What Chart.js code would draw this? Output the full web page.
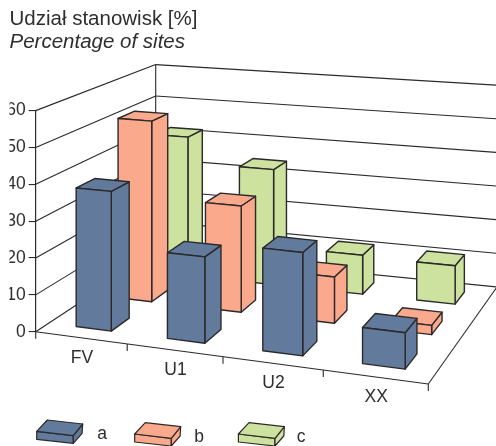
<!DOCTYPE html>
<html>
<head>
<meta charset="utf-8">
<style>html,body{margin:0;padding:0;background:#fff}canvas{display:block}</style>
<script src="https://cdn.jsdelivr.net/npm/chart.js@4"></script>
</head>
<body>
<canvas id="chart" width="496" height="446"></canvas>
<script>
// Share of sites per conservation class, split by series
const categories = ['FV', 'U1', 'U2', 'XX'];
const seriesNames = ['a', 'b', 'c'];
const seriesA = [38, 23, 27, 9.3];
const seriesB = [52, 30, 12.8, 2.5];
const seriesC = [42, 34.3, 11.4, 11];
const yTicks = [0, 10, 20, 30, 40, 50, 60];
const titleText = 'Udział stanowisk [%]';
const subtitleText = 'Percentage of sites';

const INK = '#2b292a';
const TEXT = '#2f2d2e';
const FILLS = ['#627a9b', '#fba98c', '#cde29f'];
const FONT = '"Liberation Sans", Arial, sans-serif';

// Floor plane of the 3D box: corners in canvas space come from the chart area
// plus the receding edges, (s, w) run along categories and along depth.
function floorProjector(area) {
  const ax = area.left, ay = area.bottom;
  const bx = area.right, by = area.bottom + 52.3;
  const dx = area.left + 120, dy = area.bottom - 79;
  const g = -0.1236, h = 0.1752, gv = -0.08;
  const a = bx * (1 + g) - ax, b = dx * (1 + h) - ax;
  const d = by * (1 + g) - ay, e = dy * (1 + h) - ay;
  return {
    floor(s, w) {
      const q = 1 + g * s + h * w;
      return { x: (a * s + b * w + ax) / q, y: (d * s + e * w + ay) / q };
    },
    // Pixels of rise at a floor point, foreshortened with distance
    rise(px, s, w) { return px / (1 + gv * s + h * w); }
  };
}

// Slight correction of spacing along the front edge
const warp = s => s + 0.04 * s * (1 - s);

function poly(ctx, pts, fill) {
  ctx.beginPath();
  pts.forEach((p, i) => i ? ctx.lineTo(p.x, p.y) : ctx.moveTo(p.x, p.y));
  ctx.closePath();
  if (fill) { ctx.fillStyle = fill; ctx.fill(); }
  ctx.stroke();
}

function seg(ctx, p, q) {
  ctx.beginPath();
  ctx.moveTo(p.x, p.y);
  ctx.lineTo(q.x, q.y);
  ctx.stroke();
}

const box3d = {
  id: 'box3d',
  beforeDatasetsDraw(chart) {
    const { ctx, chartArea: area, scales: { x: xs, y: ys } } = chart;
    const P = floorProjector(area);
    const base = ys.getPixelForValue(0);
    const at = (s, w, v) => {
      const f = P.floor(s, w);
      return { x: f.x, y: f.y - P.rise(base - ys.getPixelForValue(v), s, w) };
    };

    ctx.save();
    ctx.lineJoin = 'round';

    // Walls, gridlines and floor outline
    ctx.strokeStyle = INK;
    ctx.lineWidth = 1.1;
    yTicks.forEach(v => {
      seg(ctx, at(0, 0, v), at(0, 1, v));
      seg(ctx, at(0, 1, v), at(1, 1, v));
    });
    seg(ctx, at(0, 1, 0), at(0, 1, yTicks[yTicks.length - 1]));
    seg(ctx, at(0, 0, 0), at(1, 0, 0));
    seg(ctx, at(1, 0, 0), at(1, 1, 0));

    // Category separators below the front edge
    for (let i = 0; i <= categories.length; i++) {
      const p = P.floor(warp(i / categories.length), 0);
      seg(ctx, p, { x: p.x, y: p.y + 7 });
    }

    // Bars, rear series first
    const halfW = 0.05, halfD = 0.0715, n = chart.data.datasets.length;
    ctx.lineWidth = 1.4;
    for (let j = n - 1; j >= 0; j--) {
      const ds = chart.data.datasets[j];
      const w0 = (j + 0.5) / n - halfD, w1 = (j + 0.5) / n + halfD;
      ds.data.forEach((v, i) => {
        const c = (xs.getPixelForValue(i) - area.left) / area.width;
        const s0 = warp(c) - halfW, s1 = warp(c) + halfW;
        const fbl = at(s0, w0, 0), fbr = at(s1, w0, 0), bbr = at(s1, w1, 0);
        const ftl = at(s0, w0, v), ftr = at(s1, w0, v), btr = at(s1, w1, v), btl = at(s0, w1, v);
        poly(ctx, [fbr, bbr, btr, ftr], ds.backgroundColor);
        poly(ctx, [ftl, ftr, btr, btl], ds.backgroundColor);
        poly(ctx, [fbl, fbr, ftr, ftl], ds.backgroundColor);
      });
    }

    // Category labels under the front edge
    ctx.fillStyle = TEXT;
    ctx.font = '17.5px ' + FONT;
    ctx.textAlign = 'center';
    ctx.textBaseline = 'middle';
    categories.forEach((label, i) => {
      const c = (xs.getPixelForValue(i) - area.left) / area.width;
      const p = P.floor(warp(c), 0);
      ctx.fillText(xs.getLabelForValue(i), p.x + 1, p.y + 20);
    });

    // Legend with small slabs
    const slots = [{ x: 36.7, y: 431.3, tx: 102 }, { x: 134.7, y: 434, tx: 199 }, { x: 238.4, y: 434, tx: 301 }];
    chart.data.datasets.forEach((ds, j) => {
      const o = slots[j];
      const pt = (dx, dy) => ({ x: o.x + dx, y: o.y + dy });
      ctx.lineWidth = 1.2;
      poly(ctx, [pt(0, 0), pt(36.6, 4.4), pt(36.6, 12), pt(0, 8)], ds.backgroundColor);
      poly(ctx, [pt(36.6, 4.4), pt(46, -7.3), pt(45.4, 2), pt(36.6, 12)], ds.backgroundColor);
      poly(ctx, [pt(0, 0), pt(10.6, -11.3), pt(46, -7.3), pt(36.6, 4.4)], ds.backgroundColor);
      ctx.fillStyle = TEXT;
      ctx.fillText(ds.label, o.tx, o.y + 3);
    });

    ctx.restore();
    return false;
  }
};

new Chart(document.getElementById('chart'), {
  type: 'bar',
  data: {
    labels: categories,
    datasets: [seriesA, seriesB, seriesC].map((data, j) => ({
      label: seriesNames[j],
      data,
      backgroundColor: FILLS[j]
    }))
  },
  options: {
    responsive: false,
    animation: false,
    layout: { padding: { left: 9.5, right: 67.7, top: 7.4, bottom: 114.3 } },
    plugins: {
      legend: { display: false },
      tooltip: { enabled: false },
      title: {
        display: true,
        text: titleText,
        align: 'start',
        color: TEXT,
        padding: 0,
        font: { family: FONT, size: 20.5, weight: 'normal', lineHeight: 1.13 }
      },
      subtitle: {
        display: true,
        text: subtitleText,
        align: 'start',
        color: TEXT,
        padding: { top: 0, bottom: 56.9 },
        font: { family: FONT, size: 20.5, style: 'italic', weight: 'normal', lineHeight: 1.13 }
      }
    },
    scales: {
      x: { display: false },
      y: {
        min: 0,
        max: 60,
        afterFit(scale) { scale.width = 26.2; },
        border: { display: true, color: INK, width: 1.2 },
        grid: { drawOnChartArea: false, drawTicks: true, tickLength: 7, color: INK, lineWidth: 1.1 },
        ticks: {
          stepSize: 10,
          padding: 3,
          color: TEXT,
          font: { family: FONT, size: 17.5 }
        }
      }
    }
  },
  plugins: [box3d]
});
</script>
</body>
</html>
